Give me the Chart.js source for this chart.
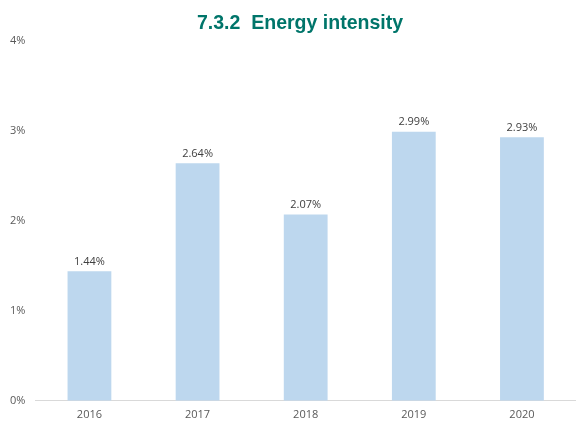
<!DOCTYPE html>
<html>
<head>
<meta charset="utf-8">
<script src="https://cdn.jsdelivr.net/npm/chart.js@4"></script>
<style>
  html, body { margin: 0; padding: 0; background: #fff; }
  #wrap { width: 576px; height: 428px; }
</style>
</head>
<body>
<div id="wrap"><canvas id="chart"></canvas></div>
<script>
const years = ["2016", "2017", "2018", "2019", "2020"];
const intensity = [1.44, 2.64, 2.07, 2.99, 2.93];
const yTicks = [0, 1, 2, 3, 4];
const titleText = "7.3.2  Energy intensity";

// labels above the bars + narrow title
const barLabels = {
    id: "barLabels",
    afterDatasetsDraw(chart) {
        const ctx = chart.ctx;
        ctx.save();
        ctx.font = "11px 'Open Sans'";
        ctx.fillStyle = "#404040";
        ctx.textAlign = "center";
        ctx.textBaseline = "bottom";
        chart.getDatasetMeta(0).data.forEach((bar, i) => {
            ctx.fillText(intensity[i].toFixed(2) + "%", bar.x, bar.y - 4);
        });
        ctx.restore();

        ctx.save();
        ctx.font = "bold 21px 'Liberation Sans'";
        ctx.fillStyle = "#00756a";
        ctx.textAlign = "center";
        ctx.textBaseline = "alphabetic";
        ctx.translate(300, 29);
        ctx.scale(0.93, 1);
        ctx.fillText(titleText, 0, 0);
        ctx.restore();
    }
};

new Chart(document.getElementById("chart"), {
    type: "bar",
    data: {
        labels: years,
        datasets: [{
            data: intensity,
            backgroundColor: "#bdd7ee",
            barPercentage: 0.81,
            categoryPercentage: 0.5
        }]
    },
    options: {
        responsive: true, maintainAspectRatio: false, animation: false,
        layout: { padding: { top: 41, right: 0, left: 0, bottom: 0 } },
        plugins: {
            legend: { display: false },
            tooltip: { enabled: false },
            title: { display: false }
        },
        scales: {
            x: {
                grid: { display: false, drawTicks: false },
                border: { color: "#d9d9d9", width: 1 },
                ticks: { color: "#595959", font: { family: "'Open Sans'", size: 11 }, padding: 7 }
            },
            y: {
                min: 0, max: 4,
                afterBuildTicks: (axis) => { axis.ticks = yTicks.map(v => ({ value: v })); },
                grid: { display: false, drawTicks: false },
                border: { display: false },
                ticks: {
                    color: "#595959", font: { family: "'Open Sans'", size: 11 }, padding: 10,
                    callback: (v) => v + "%"
                }
            }
        }
    },
    plugins: [barLabels]
});
</script>
</body>
</html>
